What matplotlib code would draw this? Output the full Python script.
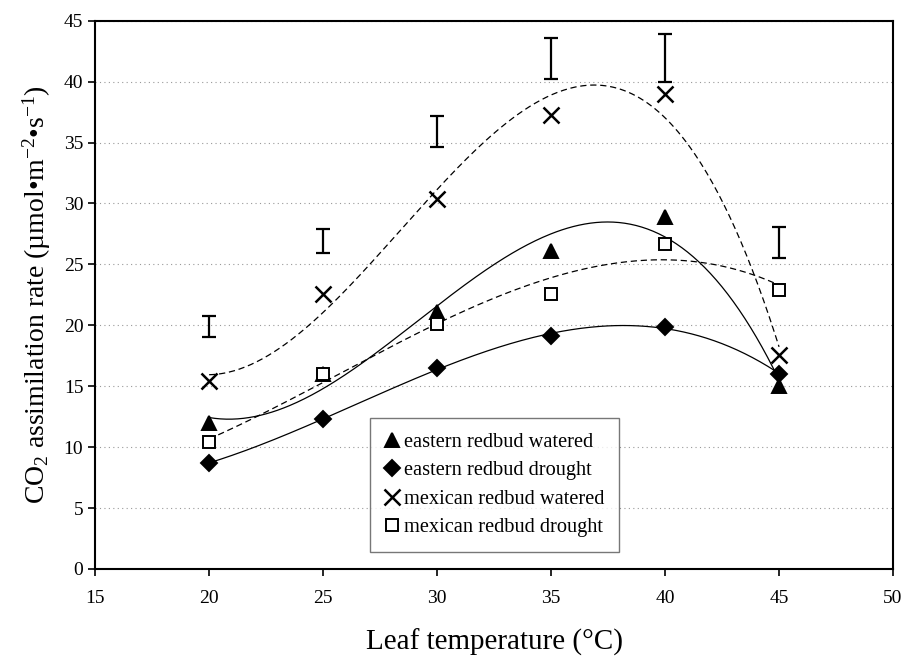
import numpy as np
import matplotlib
matplotlib.use("Agg")
import matplotlib.pyplot as plt

plt.rcParams['font.family'] = ['Liberation Serif', 'DejaVu Serif']
plt.rcParams['mathtext.fontset'] = 'custom'
plt.rcParams['mathtext.rm'] = 'Liberation Serif'
plt.rcParams['mathtext.it'] = 'Liberation Serif:italic'
plt.rcParams['mathtext.bf'] = 'Liberation Serif:bold'

temps = [20, 25, 30, 35, 40, 45]
eastern_watered = [12.0, 16.0, 21.1, 26.1, 28.9, 15.0]
eastern_drought = [8.7, 12.3, 16.5, 19.1, 19.9, 16.0]
mexican_watered = [15.4, 22.6, 30.4, 37.3, 39.0, 17.6]
mexican_drought = [10.4, 16.0, 20.1, 22.6, 26.7, 22.9]
lsd_low = [19.0, 25.9, 34.6, 40.2, 40.0, 25.5]
lsd_high = [20.8, 27.9, 37.2, 43.6, 43.9, 28.1]

labels = ["eastern redbud watered", "eastern redbud drought",
          "mexican redbud watered", "mexican redbud drought"]

fig = plt.figure(figsize=(9.06, 6.57), dpi=100)
ax = fig.add_axes([0.105, 0.134, 0.8807, 0.8345])

x = np.array(temps, dtype=float)
xs = np.linspace(20, 45, 300)

series = [
    (eastern_watered, '^', 'black', '-', 10),
    (eastern_drought, 'D', 'black', '-', 8),
    (mexican_watered, 'x', 'none', '--', 12),
    (mexican_drought, 's', 'white', '--', 9),
]

handles = []
for (vals, m, fc, ls, ms), lab in zip(series, labels):
    y = np.array(vals)
    coef = np.polyfit(x, y, 3)
    if ls == '--':
        ax.plot(xs, np.polyval(coef, xs), color='black', lw=0.9, ls='--', dashes=(5, 3))
    else:
        ax.plot(xs, np.polyval(coef, xs), color='black', lw=0.9, ls='-')
    if m == 'x':
        h, = ax.plot(x, y, ls='none', marker='x', ms=ms, mew=1.8, color='black', label=lab)
    else:
        h, = ax.plot(x, y, ls='none', marker=m, ms=ms, mfc=fc, mec='black', mew=1.4, label=lab)
    handles.append(h)

lo = np.array(lsd_low); hi = np.array(lsd_high)
ax.errorbar(x, (lo + hi) / 2, yerr=(hi - lo) / 2, fmt='none', ecolor='black',
            elinewidth=1.6, capsize=5, capthick=1.6)

ax.set_xlim(15, 50)
ax.set_ylim(0, 45)
ax.set_xticks(range(15, 51, 5))
ax.set_yticks(range(0, 46, 5))
ax.yaxis.grid(True, ls=(0, (1, 3)), color='#999999', lw=0.8)
ax.set_axisbelow(True)
for s in ax.spines.values():
    s.set_linewidth(1.5)
ax.tick_params(axis='both', labelsize=14, length=5, width=1.2, direction='out')
ax.tick_params(axis='x', pad=10)

ax.set_xlabel("Leaf temperature (°C)", fontsize=21, labelpad=16)
ax.set_ylabel("CO$_2$ assimilation rate (µmol•m$^{-2}$•s$^{-1}$)", fontsize=20, labelpad=8)

leg = ax.legend(handles=handles, loc='lower left', bbox_to_anchor=(0.332, 0.013),
                fontsize=14.7, frameon=True, fancybox=False, edgecolor='#555555',
                handlelength=0.7, handletextpad=0.25, borderpad=0.7, labelspacing=0.45)
leg.get_frame().set_linewidth(1.0)

fig.savefig("out.png", dpi=100)
